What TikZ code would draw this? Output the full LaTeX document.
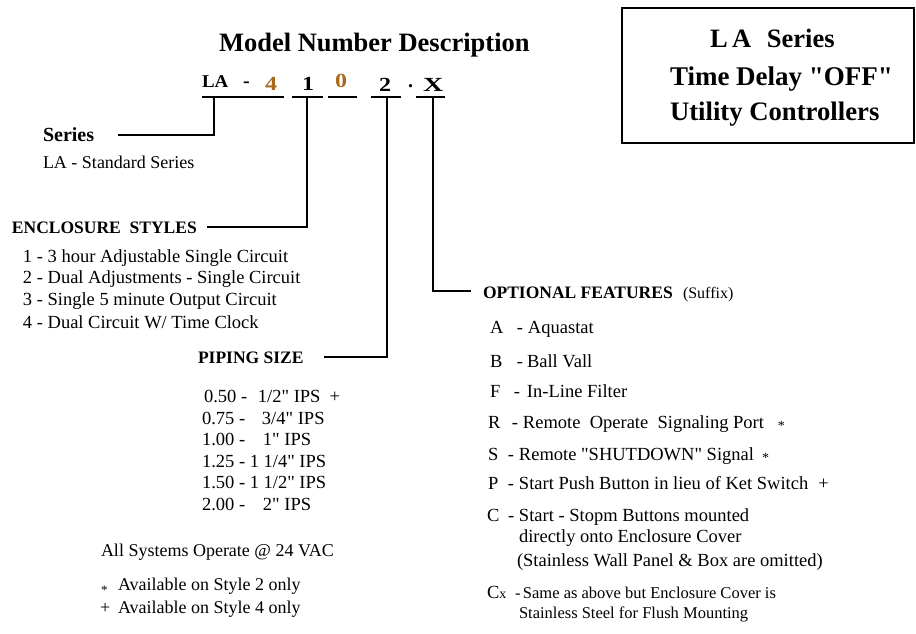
\documentclass[tikz,border=0pt]{standalone}
\usepackage{fontspec}
\setmainfont{Liberation Serif}[Ligatures=TeXOff]
\definecolor{digitor}{HTML}{A8691C}
\newcommand\fsz[1]{\fontsize{#1}{#1}\selectfont}
\newcommand\dq{"}
\newcommand\optrow[4]{\makebox[#1pt][l]{#3}\makebox[#2pt][l]{-}#4}
\newcommand\smast{\raisebox{-4pt}{\fsz{13}*}}
\newcommand\optast{\raisebox{-2pt}{\fsz{14}*}}
\tikzset{
  lbl/.style={anchor=base west, inner sep=0pt, outer sep=0pt},
  hd/.style={lbl, font=\bfseries\fsz{17.5}},
  txt/.style={lbl, font=\fsz{18.5}},
  digit/.style={lbl, font=\bfseries\fsz{20}},
  conn/.style={line width=2.6pt, line join=miter},
  bar/.style={line width=2.6pt},
}
\begin{document}
\begin{tikzpicture}[x=1pt,y=-1pt]
\useasboundingbox (0,0) rectangle (916,634);
% title
\node[lbl, font=\bfseries\fsz{26.5}] (title) at (219,52) {Model Number Description};
% box
\node[draw, line width=2.4pt, minimum width=292pt, minimum height=135pt, inner sep=0pt] (box) at (768,75.5) {};
\node[lbl, font=\bfseries\fsz{26.5}] (bx1) at (710,48) {\makebox[22pt][l]{L}\makebox[35pt][l]{A}Series};
\node[lbl, font=\bfseries\fsz{27}] (bx2) at (670,85) {Time Delay \dq OFF\dq};
\node[lbl, font=\bfseries\fsz{26.7}] (bx3) at (670,120) {Utility Controllers};
% model number
\node[digit] (mLA) at (202,88) {\scalebox{1.05}[1]{\fsz{18}LA}};
\node[digit] (mdash) at (243,88) {-};
\node[digit, text=digitor] (m4) at (265,91) {\scalebox{1.2}[1]{4}};
\node[digit] (m1) at (302,90) {\scalebox{1.2}[1]{1}};
\node[digit, text=digitor] (m0) at (335,88) {\scalebox{1.2}[1]{0}};
\node[digit] (m2) at (379,92) {\scalebox{1.2}[1]{2}};
\node[digit] (mdot) at (408,88) {.};
\node[digit] (mX) at (423,92) {\scalebox{1.4}[1]{X}};
% underline bars
\coordinate (b1l) at (202,97); \coordinate (b1r) at (284,97);
\coordinate (b2l) at (292,97); \coordinate (b2r) at (323,97);
\coordinate (b3l) at (328,97); \coordinate (b3r) at (357,97);
\coordinate (b4l) at (371,97); \coordinate (b4r) at (401,97);
\coordinate (b5l) at (416,97); \coordinate (b5r) at (445,97);
\draw[bar] (b1l) -- (b1r);
\draw[bar] (b2l) -- (b2r);
\draw[bar] (b3l) -- (b3r);
\draw[bar] (b4l) -- (b4r);
\draw[bar] (b5l) -- (b5r);
% connector taps
\coordinate (t1) at (214,97);
\coordinate (t2) at (307,97);
\coordinate (t4) at (387,97);
\coordinate (t5) at (433,97);
\coordinate (e1) at (118,135);
\coordinate (e2) at (207,227);
\coordinate (e4) at (324,357);
\coordinate (e5) at (471,291);
\draw[conn] (t1) |- (e1);
\draw[conn] (t2) |- (e2);
\draw[conn] (t4) |- (e4);
\draw[conn] (t5) |- (e5);
% series
\node[lbl, font=\bfseries\fsz{20}] (series) at (43,141) {Series};
\node[lbl, font=\fsz{18}] (seriesLA) at (43,168) {LA - Standard Series};
% enclosure
\node[hd] (encl) at (12,233) {ENCLOSURE\ \ STYLES};
\node[txt] (enc1) at (23,262) {1 - 3 hour Adjustable Single Circuit};
\node[txt] (enc2) at (23,283) {2 - Dual Adjustments - Single Circuit};
\node[txt] (enc3) at (23,305) {3 - Single 5 minute Output Circuit};
\node[txt] (enc4) at (23,328) {4 - Dual Circuit W/ Time Clock};
% piping
\node[hd] (pipe) at (198,363) {PIPING SIZE};
\node[txt] (p1) at (204,402) {\makebox[54pt][l]{0.50 -}1/2\dq{} IPS\hskip 9pt+};
\node[txt] (p2) at (202,424) {\makebox[60pt][l]{0.75 -}3/4\dq{} IPS};
\node[txt] (p3) at (202,445) {\makebox[61pt][l]{1.00 -}1\dq{} IPS};
\node[txt] (p4) at (202,467) {1.25 - 1 1/4\dq{} IPS};
\node[txt] (p5) at (202,488) {1.50 - 1 1/2\dq{} IPS};
\node[txt] (p6) at (202,510) {\makebox[61pt][l]{2.00 -}2\dq{} IPS};
% notes
\node[lbl, font=\fsz{18}] (n1) at (101,556) {All Systems Operate @ 24 VAC};
\node[lbl, font=\fsz{18}] (n2) at (101,590) {\makebox[17pt][l]{\smast}Available on Style 2 only};
\node[lbl, font=\fsz{18}] (n3) at (100,613) {\makebox[18pt][l]{+}Available on Style 4 only};
% optional features
\node[hd] (opt) at (483,298) {OPTIONAL FEATURES};
\node[lbl, font=\fsz{16}] (suffix) at (683,298) {(Suffix)};
\node[txt] (oA) at (490,333) {\optrow{27}{11}{A}{Aquastat}};
\node[txt] (oB) at (490,367) {\optrow{27}{10}{B}{Ball Vall}};
\node[txt] (oF) at (490,397) {\optrow{24}{13}{F}{In-Line Filter}};
\node[txt] (oR) at (488,428) {\optrow{24}{11}{R}{Remote\ \ Operate\ \ Signaling Port\hskip 14pt\optast}};
\node[txt] (oS) at (488,460) {\optrow{20}{11}{S}{Remote \dq SHUTDOWN\dq{} Signal\hskip 8pt\optast}};
\node[txt] (oP) at (488,489) {\optrow{20}{11}{P}{Start Push Button in lieu of Ket Switch\hskip 10pt+}};
\node[txt] (oC) at (487,521) {\optrow{21}{11}{C}{Start - Stopm Buttons mounted}};
\node[txt] (oC2) at (519,542) {directly onto Enclosure Cover};
\node[txt] (oC3) at (517,566) {(Stainless Wall Panel \& Box are omitted)};
\node[lbl, font=\fsz{16.5}] (oCx) at (487,598) {\makebox[28pt][l]{{\fsz{18.5}C}{\fsz{14}x}}\makebox[8pt][l]{-}Same as above but Enclosure Cover is};
\node[lbl, font=\fsz{16.5}] (oCx2) at (519,618) {Stainless Steel for Flush Mounting};
\end{tikzpicture}
\end{document}
